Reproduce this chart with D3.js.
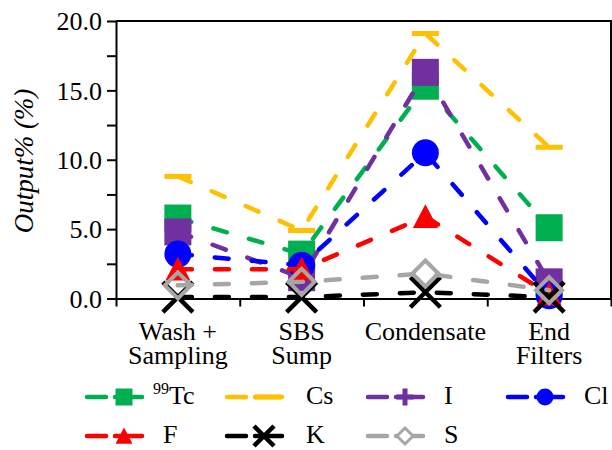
<!DOCTYPE html>
<html>
<head>
<meta charset="utf-8">
<script src="https://cdn.jsdelivr.net/npm/d3@7"></script>
<style>
  body { margin: 0; background: #fff; }
  svg { display: block; }
</style>
</head>
<body>
<svg id="chart" width="612" height="450"></svg>
<script>
// Categories along the x axis (multi-line labels)
const categories = ["Wash + Sampling", "SBS Sump", "Condensate", "End Filters"];
const categoryLines = [["Wash +", "Sampling"], ["SBS", "Sump"], ["Condensate"], ["End", "Filters"]];

// Output % per element at each location
const tcValues = [5.8, 3.2, 15.3, 5.1];
const csValues = [8.8, 4.9, 19.1, 10.9];
const iValues  = [4.8, 1.5, 16.3, 1.2];
const clValues = [3.2, 2.4, 10.5, 0.2];
const fValues  = [2.1, 2.1, 5.9, 0.3];
const kValues  = [0.1, 0.1, 0.45, 0.1];
const sValues  = [0.95, 1.2, 1.8, 0.6];

const yTickValues = [0, 2.5, 5, 7.5, 10, 12.5, 15, 17.5, 20];

const series = [
  { name: "Tc", values: tcValues, color: "#00B050", marker: "square",  legendMarker: "square" },
  { name: "Cs", values: csValues, color: "#FFC000", marker: "dash",    legendMarker: "dash" },
  { name: "I",  values: iValues,  color: "#7030A0", marker: "square",  legendMarker: "plus" },
  { name: "Cl", values: clValues, color: "#0000FF", marker: "circle",  legendMarker: "circle" },
  { name: "F",  values: fValues,  color: "#FF0000", marker: "triangle",legendMarker: "triangle" },
  { name: "K",  values: kValues,  color: "#000000", marker: "x",       legendMarker: "x" },
  { name: "S",  values: sValues,  color: "#A6A6A6", marker: "diamond", legendMarker: "diamond" }
];

const FONT = "Liberation Serif";

const svg = d3.select("#chart").attr("font-family", FONT);
const plotLeft = 116, plotRight = 611, plotTop = 21, plotBottom = 298.5;

const x = d3.scaleBand().domain(categories).range([plotLeft, plotRight]);
const xEdge = d3.scaleLinear().domain([0, categories.length]).range([plotLeft, plotRight]);
const y = d3.scaleLinear().domain([0, 20]).range([plotBottom, plotTop]);
const cx = c => x(c) + x.bandwidth() / 2;

// Frame: top and right border
svg.append("path")
  .attr("d", `M${plotLeft},${plotTop}H${plotRight}V${plotBottom}`)
  .attr("fill", "none").attr("stroke", "#000").attr("stroke-width", 2);

// Y axis
const yAxis = svg.append("g")
  .attr("transform", `translate(${plotLeft},0)`)
  .call(d3.axisLeft(y)
    .tickValues(yTickValues)
    .tickSize(9)
    .tickSizeOuter(0)
    .tickPadding(5)
    .tickFormat(d => d % 5 === 0 ? d3.format(".1f")(d) : ""));
yAxis.attr("font-family", FONT).attr("font-size", 26);
yAxis.selectAll("path, line").attr("stroke", "#000").attr("stroke-width", 2);
yAxis.selectAll("text").attr("fill", "#000").attr("dy", "0.34em");

// X axis with ticks on category boundaries
const xAxis = svg.append("g")
  .attr("transform", `translate(0,${plotBottom})`)
  .call(d3.axisBottom(xEdge)
    .tickValues(d3.range(0, categories.length + 1))
    .tickSize(8)
    .tickSizeOuter(0)
    .tickFormat(""));
xAxis.selectAll("path, line").attr("stroke", "#000").attr("stroke-width", 2);

// Category labels, one text per line
categories.forEach((c, i) => {
  categoryLines[i].forEach((ln, j) => {
    svg.append("text")
      .attr("x", cx(c)).attr("y", 340 + j * 24)
      .attr("text-anchor", "middle")
      .attr("font-family", FONT).attr("font-size", 26)
      .text(ln);
  });
});

// Y axis title
svg.append("text")
  .attr("transform", "translate(33,161) rotate(-90)")
  .attr("text-anchor", "middle")
  .attr("font-family", FONT).attr("font-size", 27)
  .attr("font-style", "italic")
  .text("Output% (%)");

// Marker drawing
function drawMarker(g, type, px, py, size, color) {
  const h = size / 2;
  switch (type) {
    case "square":
      g.append("rect").attr("x", px - h).attr("y", py - h).attr("width", size).attr("height", size).attr("fill", color);
      break;
    case "circle":
      g.append("circle").attr("cx", px).attr("cy", py).attr("r", h).attr("fill", color);
      break;
    case "triangle":
      g.append("path").attr("d", `M${px},${py - h}L${px + h},${py + h * 0.9}L${px - h},${py + h * 0.9}Z`).attr("fill", color);
      break;
    case "dash":
      g.append("rect").attr("x", px - h).attr("y", py - 2.5).attr("width", size).attr("height", 5).attr("fill", color);
      break;
    case "plus":
      g.append("path").attr("d", `M${px - h},${py}H${px + h}M${px},${py - h}V${py + h}`)
        .attr("stroke", color).attr("stroke-width", 5).attr("fill", "none");
      break;
    case "x":
      g.append("path").attr("d", `M${px - h},${py - h}L${px + h},${py + h}M${px + h},${py - h}L${px - h},${py + h}`)
        .attr("stroke", color).attr("stroke-width", 4.5).attr("fill", "none");
      break;
    case "diamond":
      g.append("path").attr("d", `M${px},${py - h}L${px + h},${py}L${px},${py + h}L${px - h},${py}Z`)
        .attr("stroke", color).attr("stroke-width", 4).attr("fill", "none");
      break;
  }
}

const markerSize = { square: 27, circle: 27, triangle: 25, dash: 27, x: 30, diamond: 26, plus: 17 };

const line = d3.line().x((d, i) => cx(categories[i])).y(d => y(d));

series.forEach(s => {
  const g = svg.append("g");
  g.append("path")
    .attr("d", line(s.values))
    .attr("fill", "none")
    .attr("stroke", s.color)
    .attr("stroke-width", 4.5)
    .attr("stroke-linecap", "round")
    .attr("stroke-dasharray", "14,23");
  s.values.forEach((v, i) => drawMarker(g, s.marker, cx(categories[i]), y(v), markerSize[s.marker], s.color));
});

// Legend
const legendCols = [87, 227, 368, 508];
const legendRows = [397, 436];
const legendTextX = [153, 306, 444, 584, 163, 306, 444];
const legendSize = { square: 17, circle: 17, triangle: 17, dash: 27, x: 20, diamond: 16, plus: 17 };

series.forEach((s, i) => {
  const col = i % 4, row = Math.floor(i / 4);
  const x0 = legendCols[col], ly = legendRows[row];
  const g = svg.append("g");
  g.append("path")
    .attr("d", `M${x0},${ly}H${x0 + 19}M${x0 + 28},${ly}H${x0 + 55}`)
    .attr("stroke", s.color).attr("stroke-width", 4.5).attr("stroke-linecap", "round").attr("fill", "none");
  const m = s.legendMarker;
  const mx = m === "dash" ? x0 + 41 : x0 + 37;
  if (m === "diamond") {
    g.append("path").attr("d", `M${mx},${ly - 8}L${mx + 8},${ly}L${mx},${ly + 8}L${mx - 8},${ly}Z`)
      .attr("stroke", s.color).attr("stroke-width", 3).attr("fill", "#fff");
  } else {
    drawMarker(g, m, mx, ly, legendSize[m], s.color);
  }
  const t = svg.append("text")
    .attr("x", legendTextX[i]).attr("y", ly + 7)
    .attr("font-family", FONT).attr("font-size", 26);
  if (s.name === "Tc") {
    t.append("tspan").attr("font-size", 16).attr("dy", -10).text("99");
    t.append("tspan").attr("dy", 10).text("Tc");
  } else {
    t.text(s.name);
  }
});
</script>
</body>
</html>
